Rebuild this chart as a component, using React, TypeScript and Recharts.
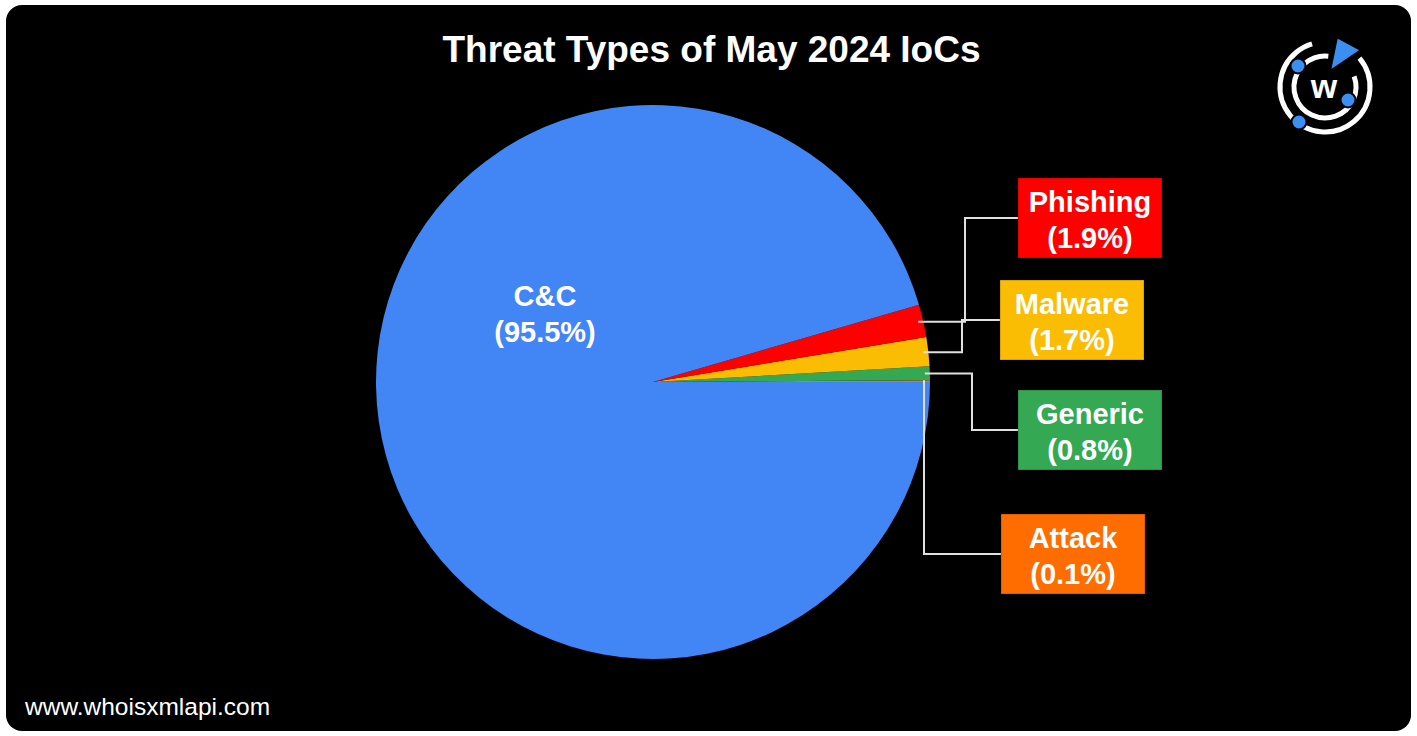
import React from 'react';
import { PieChart, Pie, Cell } from 'recharts';

// slices run counter-clockwise from 3 o'clock
const threatNames = ['Attack', 'Generic', 'Malware', 'Phishing', 'C&C'];
const threatShares = [0.1, 0.8, 1.7, 1.9, 95.5];
const threatColors = ['#FF6D01', '#34A853', '#FBBC04', '#FF0000', '#4285F4'];

const chartData = threatNames.map((name, i) => ({
  name,
  value: threatShares[i],
}));

// callout layout, offsets relative to pie centre
const calloutLayout: Record<string, { boxX: number; boxY: number; elbowX: number }> = {
  Phishing: { boxX: 365, boxY: -164, elbowX: 312 },
  Malware: { boxX: 347, boxY: -62, elbowX: 309 },
  Generic: { boxX: 365, boxY: 48, elbowX: 319 },
  Attack: { boxX: 348, boxY: 172, elbowX: 271 },
};

const RAD = Math.PI / 180;
const BOX_W = 144;
const BOX_H = 80;
const FONT = '"Liberation Sans", Arial, Helvetica, sans-serif';
const LABEL_SIZE = 29;

const renderLabel = (props: any) => {
  const { cx, cy, midAngle, outerRadius, index, name, value } = props;
  const pct = `(${value}%)`;

  if (name === 'C&C') {
    const x = cx - 108;
    const y = cy - 76;
    return (
      <g>
        <text x={x} y={y} textAnchor="middle" fill="#fff" fontSize={LABEL_SIZE} fontWeight={700} fontFamily={FONT}>
          {name}
        </text>
        <text x={x} y={y + 36} textAnchor="middle" fill="#fff" fontSize={LABEL_SIZE} fontWeight={700} fontFamily={FONT}>
          {pct}
        </text>
      </g>
    );
  }

  const lay = calloutLayout[name];
  const r = outerRadius - 5;
  const sx = cx + r * Math.cos(-midAngle * RAD);
  const sy = cy + r * Math.sin(-midAngle * RAD);
  const ex = cx + lay.elbowX;
  const by = cy + lay.boxY;
  const bx = cx + lay.boxX;
  const color = threatColors[index];

  return (
    <g>
      <polyline
        points={`${sx},${sy} ${ex},${sy} ${ex},${by} ${bx},${by}`}
        fill="none"
        stroke="#e0e0e0"
        strokeWidth={2}
      />
      <rect x={bx} y={by - BOX_H / 2} width={BOX_W} height={BOX_H} fill={color} stroke="rgba(0,0,0,0.25)" strokeWidth={1} />
      <text x={bx + BOX_W / 2} y={by - 6} textAnchor="middle" fill="#fff" fontSize={LABEL_SIZE} fontWeight={700} fontFamily={FONT}>
        {name}
      </text>
      <text x={bx + BOX_W / 2} y={by + 30} textAnchor="middle" fill="#fff" fontSize={LABEL_SIZE} fontWeight={700} fontFamily={FONT}>
        {pct}
      </text>
    </g>
  );
};

const Logo = () => (
  <svg width={120} height={120} viewBox="0 0 120 120" style={{ position: 'absolute', left: 1261, top: 26 }}>
    <circle cx={64} cy={61} r={45} fill="none" stroke="#fff" strokeWidth={5} strokeDasharray="230 53" transform="rotate(-40 64 61)" />
    <circle cx={64} cy={61} r={31} fill="none" stroke="#fff" strokeWidth={5} strokeDasharray="160 35" transform="rotate(-20 64 61)" />
    <path d="M76 11 L100 24 L69 45 Z" fill="#3b8ff0" stroke="#000" strokeWidth={2} strokeLinejoin="round" />
    <circle cx={37} cy={40} r={7.5} fill="#3b8ff0" stroke="#000" strokeWidth={2} />
    <circle cx={87} cy={74} r={7.5} fill="#3b8ff0" stroke="#000" strokeWidth={2} />
    <circle cx={38} cy={96} r={7.5} fill="#3b8ff0" stroke="#000" strokeWidth={2} />
    <text x={63} y={72} textAnchor="middle" fill="#fff" fontSize={34} fontWeight={700} fontFamily={FONT}>
      w
    </text>
  </svg>
);

export default function App() {
  return (
    <div style={{ position: 'absolute', left: 0, top: 0, width: 1417, height: 736, background: '#fff', overflow: 'hidden' }}>
      <div
        style={{
          position: 'absolute',
          left: 6,
          top: 5,
          width: 1405,
          height: 726,
          background: '#000',
          borderRadius: 16,
          fontFamily: FONT,
        }}
      >
        <div
          style={{
            position: 'absolute',
            left: 0,
            width: 1405,
            top: 25,
            textAlign: 'center',
            color: '#fff',
            fontSize: 37,
            lineHeight: '40px',
            fontWeight: 700,
            transform: 'translateX(3px)',
          }}
        >
          Threat Types of May 2024 IoCs
        </div>
        <PieChart width={1405} height={726} style={{ position: 'absolute', left: 0, top: 0 }}>
          <Pie
            data={chartData}
            dataKey="value"
            nameKey="name"
            cx={642}
            cy={372}
            outerRadius={277}
            startAngle={0}
            endAngle={360}
            stroke="none"
            label={renderLabel}
            labelLine={false}
            isAnimationActive={false}
          >
            {chartData.map((d, i) => (
              <Cell key={d.name} fill={threatColors[i]} />
            ))}
          </Pie>
        </PieChart>
        <div style={{ position: 'absolute', left: 19, top: 688, color: '#fff', fontSize: 24.5, lineHeight: '28px' }}>
          www.whoisxmlapi.com
        </div>
      </div>
      <Logo />
    </div>
  );
}
